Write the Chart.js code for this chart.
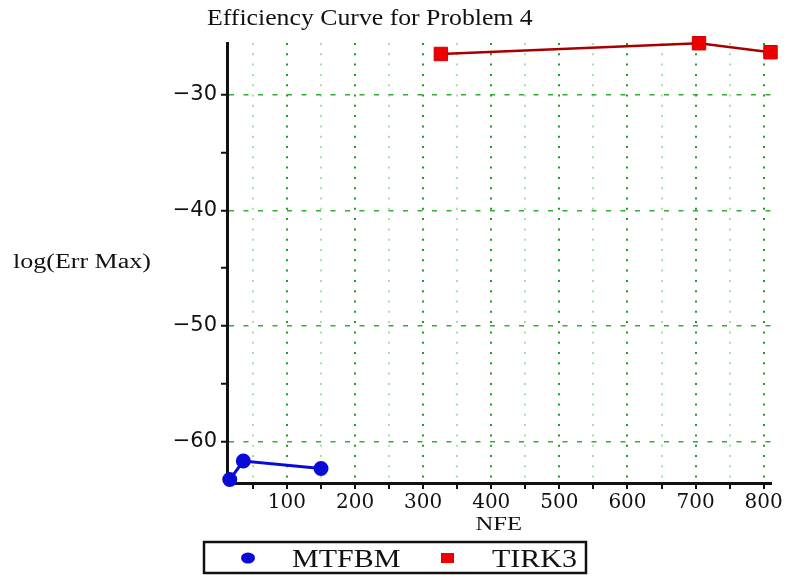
<!DOCTYPE html>
<html><head><meta charset="utf-8">
<script src="https://cdn.jsdelivr.net/npm/chart.js@4/dist/chart.umd.min.js"></script>
<style>html,body{margin:0;padding:0;background:#fff;} canvas{display:block;}</style>
</head><body>
<canvas id="c" width="786" height="575"></canvas>
<script>
const titleText = 'Efficiency Curve for Problem 4';
const xAxisLabel = 'NFE';
const yAxisLabel = 'log(Err Max)';
const seriesNames = ['MTFBM', 'TIRK3'];
const mtfbmNFE = [16, 36, 150];
const mtfbmLogErr = [-63.3, -61.7, -62.35];
const tirk3NFE = [326, 705, 810];
const tirk3LogErr = [-26.45, -25.52, -26.3];
const xTickValues = [50,100,150,200,250,300,350,400,450,500,550,600,650,700,750,800];
const yTickValues = [-60,-55,-50,-45,-40,-35,-30];
const xRange = [12, 810];
const yRange = [-63.6, -25.5];

const toPoints = (xs, ys) => xs.map((x, i) => ({x: x, y: ys[i]}));

function stretchText(ctx, text, x, y, font, sx, align) {
  ctx.save();
  ctx.font = font;
  ctx.fillStyle = '#111';
  ctx.textBaseline = 'alphabetic';
  ctx.textAlign = 'left';
  const w = ctx.measureText(text).width * sx;
  const left = align === 'center' ? x - w / 2 : x;
  ctx.translate(left, y);
  ctx.scale(sx, 1);
  ctx.fillText(text, 0, 0);
  ctx.restore();
}

const annotations = {
  id: 'annotations',
  afterDraw(chart) {
    const ctx = chart.ctx;
    const serif = '"Liberation Serif", "Times New Roman", serif';
    stretchText(ctx, titleText, 207, 25, '23px ' + serif, 1.12, 'left');
    stretchText(ctx, yAxisLabel, 13, 268, '20px ' + serif, 1.3, 'left');
    const a = chart.chartArea;
    stretchText(ctx, xAxisLabel, (a.left + a.right) / 2, 530, '19px ' + serif, 1.3, 'center');
    // legend
    const ds = chart.data.datasets;
    ctx.save();
    ctx.lineWidth = 2.5;
    ctx.strokeStyle = '#111';
    ctx.strokeRect(204, 542, 382, 31);
    ctx.fillStyle = ds[0].pointBackgroundColor;
    ctx.beginPath();
    ctx.ellipse(248, 558, 7, 5.5, 0, 0, Math.PI * 2);
    ctx.fill();
    ctx.fillStyle = ds[1].pointBackgroundColor;
    ctx.fillRect(441, 553, 13, 10);
    ctx.restore();
    stretchText(ctx, ds[0].label, 292, 567, '25px ' + serif, 1.2, 'left');
    stretchText(ctx, ds[1].label, 492, 567, '25px ' + serif, 1.2, 'left');
  }
};

new Chart(document.getElementById('c'), {
  type: 'line',
  data: {
    datasets: [
      {
        label: seriesNames[0],
        data: toPoints(mtfbmNFE, mtfbmLogErr),
        borderColor: '#0a0ad8',
        backgroundColor: '#0a0ad8',
        pointBackgroundColor: '#0a0ad8',
        pointBorderColor: '#0a0ad8',
        borderWidth: 3,
        pointRadius: 6,
        pointStyle: 'circle',
        clip: false,
        tension: 0
      },
      {
        label: seriesNames[1],
        data: toPoints(tirk3NFE, tirk3LogErr),
        borderColor: '#a80000',
        backgroundColor: '#ee0000',
        pointBackgroundColor: '#ee0000',
        pointBorderColor: '#d00000',
        pointBorderWidth: 1,
        borderWidth: 2.5,
        pointRadius: 9.5,
        pointStyle: 'rect',
        clip: false,
        tension: 0
      }
    ]
  },
  options: {
    responsive: false,
    devicePixelRatio: 1,
    animation: false,
    layout: { padding: { top: 43, right: 15.5, left: 0, bottom: 0 } },
    plugins: { legend: { display: false }, title: { display: false }, tooltip: { enabled: false } },
    scales: {
      x: {
        type: 'linear',
        min: xRange[0],
        max: xRange[1],
        afterFit(scale) { scale.height = 92; },
        afterBuildTicks(scale) { scale.ticks = xTickValues.map(v => ({ value: v })); },
        ticks: {
          autoSkip: false,
          maxRotation: 0,
          padding: 2,
          color: '#111',
          font: { family: '"DejaVu Serif", serif', size: 20 },
          callback: (v) => (v % 100 === 0 ? String(v) : '')
        },
        grid: {
          color: (c) => (c.tick && c.tick.value % 100 === 0 ? '#1f9f1f' : '#a6e2a6'),
          lineWidth: 2,
          tickLength: 6,
          tickColor: '#111',
          tickWidth: 2,
          tickBorderDash: []
        },
        border: { color: '#111', width: 3, dash: [2, 8.3] }
      },
      y: {
        type: 'linear',
        min: yRange[0],
        max: yRange[1],
        afterFit(scale) { scale.width = 227; },
        afterBuildTicks(scale) { scale.ticks = yTickValues.map(v => ({ value: v })); },
        ticks: {
          autoSkip: false,
          padding: 4,
          color: '#111',
          font: { family: '"DejaVu Sans", sans-serif', size: 21 },
          callback: (v) => (v % 10 === 0 ? '\u2212' + Math.abs(v) : '')
        },
        grid: {
          color: (c) => (c.tick && c.tick.value % 10 === 0 ? '#2fae2f' : 'rgba(0,0,0,0)'),
          lineWidth: 1.5,
          tickLength: 6,
          tickColor: '#111',
          tickWidth: 2,
          tickBorderDash: []
        },
        border: { color: '#111', width: 3, dash: [5, 9.5] }
      }
    }
  },
  plugins: [annotations]
});
</script>
</body></html>
